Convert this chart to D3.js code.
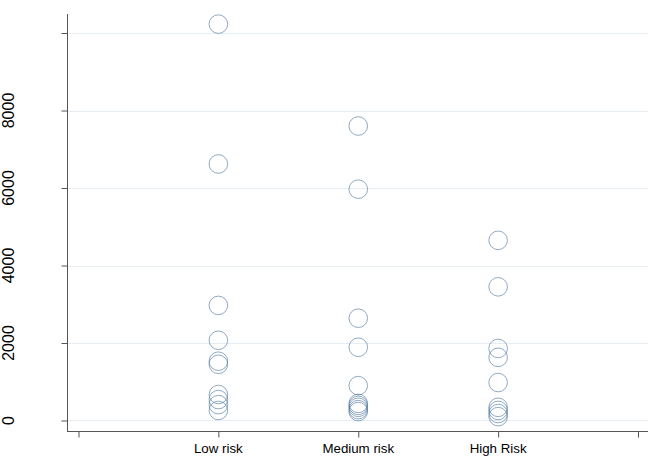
<!DOCTYPE html>
<html><head><meta charset="utf-8">
<script src="https://cdn.jsdelivr.net/npm/d3@7"></script>
<style>body{margin:0;background:#fff;} svg{display:block;}</style>
</head><body>
<script>
const categories = ["Low risk", "Medium risk", "High Risk"];
const lowRisk = [10230, 6620, 2970, 2070, 1530, 1450, 670, 540, 410, 260];
const mediumRisk = [7600, 5970, 2640, 1890, 900, 440, 390, 340, 280, 230];
const highRisk = [4650, 3450, 1860, 1630, 980, 340, 260, 180, 100];
const yTicks = [0, 2000, 4000, 6000, 8000, 10000];
const yTickLabels = ["0", "2000", "4000", "6000", "8000", ""];
const xTickLabels = ["", "Low risk", "Medium risk", "High Risk", ""];

const W = 666, H = 466;
const svg = d3.select("body").append("svg").attr("width", W).attr("height", H);

const x = d3.scaleLinear().domain([-0.0786, 4.0714]).range([67.5, 648]);
const y = d3.scaleLinear().domain([-284, 10491]).range([431.5, 14]);

// gridlines
svg.append("g").selectAll("line").data(yTicks).join("line")
  .attr("x1", 68).attr("x2", 648)
  .attr("y1", d => Math.round(y(d)) + 0.5).attr("y2", d => Math.round(y(d)) + 0.5)
  .attr("stroke", "#e6eef3").attr("stroke-width", 1);

// y axis
const yAxis = svg.append("g").attr("transform", "translate(67.5,0)")
  .call(d3.axisLeft(y).tickValues(yTicks).tickSize(6).tickPadding(0).tickFormat(""));
yAxis.select(".domain").attr("stroke", "#555").attr("d", `M0,14V431.5`);
yAxis.selectAll(".tick line").attr("stroke", "#555");

svg.append("g").selectAll("text").data(yTicks).join("text")
  .attr("transform", d => `translate(13.5,${y(d)}) rotate(-90)`)
  .attr("text-anchor", "middle")
  .attr("font-family", "Liberation Sans, Arial, sans-serif")
  .attr("font-size", 16)
  .attr("fill", "#000")
  .text((d, i) => yTickLabels[i]);

// x axis
const xAxis = svg.append("g").attr("transform", "translate(0,431.5)")
  .call(d3.axisBottom(x).tickValues([0,1,2,3,4]).tickSize(6).tickPadding(0).tickFormat(""));
xAxis.select(".domain").attr("stroke", "#555").attr("d", "M67,0H648");
xAxis.selectAll(".tick line").attr("stroke", "#555");

svg.append("g").selectAll("text").data([0,1,2,3,4]).join("text")
  .attr("x", d => x(d)).attr("y", 453)
  .attr("text-anchor", "middle")
  .attr("font-family", "Liberation Sans, Arial, sans-serif")
  .attr("font-size", 13.3)
  .attr("fill", "#000")
  .text((d, i) => xTickLabels[i]);

// points
const series = [lowRisk, mediumRisk, highRisk];
const pts = [];
series.forEach((vals, i) => vals.forEach(v => pts.push({cat: i + 1, v})));
svg.append("g").selectAll("circle").data(pts).join("circle")
  .attr("cx", d => x(d.cat)).attr("cy", d => y(d.v)).attr("r", 9.3)
  .attr("fill", "none").attr("stroke", "#4f77a0").attr("stroke-width", 0.9)
  .attr("stroke-opacity", 0.7);
</script>
</body></html>
